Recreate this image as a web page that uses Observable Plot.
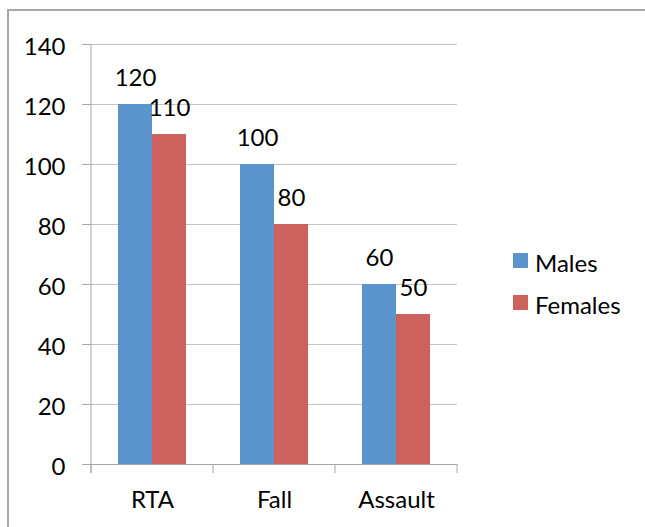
<!DOCTYPE html>
<html>
<head>
<meta charset="utf-8">
<script src="https://cdn.jsdelivr.net/npm/d3@7"></script>
<script src="https://cdn.jsdelivr.net/npm/@observablehq/plot@0.6"></script>
<style>
  html, body { margin: 0; padding: 0; background: #fff; }
  #wrap { position: relative; width: 645px; height: 527px; overflow: hidden; background: #fff; }
  #border { position: absolute; left: 7px; top: 9px; width: 700px; height: 600px; border-top: 2px solid #a6a6a6; border-left: 2px solid #a6a6a6; box-sizing: border-box; }
  #chart { position: absolute; left: 0; top: 0; }
</style>
</head>
<body>
<div id="wrap"><div id="border"></div><div id="chart"></div></div>
<script>
const categories = ["RTA", "Fall", "Assault"];
const series = ["Males", "Females"];
const males = [120, 100, 60];
const females = [110, 80, 50];
const colors = ["#5b93cd", "#cd625c"];
const yTicks = [0, 20, 40, 60, 80, 100, 120, 140];

const data = categories.flatMap((c, i) => [
  {cat: c, series: series[0], value: males[i]},
  {cat: c, series: series[1], value: females[i]}
]);

const axisGray = "#a6a6a6";
const gridGray = "#c4c4c4";
const font = "Lato, 'Open Sans', sans-serif";
const fs = 24;

const plot = Plot.plot({
  width: 645,
  height: 527,
  marginLeft: 91,
  marginRight: 188,
  marginTop: 44,
  marginBottom: 63,
  style: {fontFamily: font, fontSize: fs + "px", color: "#000", background: "transparent"},
  fx: {domain: categories, padding: 0, label: null},
  x: {domain: series, paddingInner: 0, paddingOuter: 0.743, axis: null},
  y: {domain: [0, 140], label: null},
  color: {domain: series, range: colors},
  marks: [
    Plot.gridY(yTicks, {stroke: gridGray, strokeOpacity: 1}),
    Plot.barY(data, {fx: "cat", x: "series", y: "value", fill: "series"}),
    Plot.text(data, {fx: "cat", x: "series", y: "value", text: d => String(d.value), lineAnchor: "bottom", dy: -19, fill: "#000", fontSize: fs}),
    Plot.ruleY([0], {stroke: axisGray}),
    Plot.axisY(yTicks, {tickSize: 9, text: null, stroke: axisGray, label: null}),
    Plot.axisY(yTicks, {tickSize: 0, tickPadding: 26, fill: "#000", label: null, dy: 3, fontSize: fs}),
    Plot.axisFx({anchor: "bottom", tickSize: 0, tickPadding: 26, label: null, fill: "#000", fontSize: fs})
  ]
});

document.getElementById("chart").appendChild(plot);

// Excel-style axis line and category boundary ticks, placed with the plot's own scales
const svg = d3.select(plot);
const fxs = plot.scale("fx");
const ys = plot.scale("y");
const y0 = ys.apply(0), yTop = ys.apply(140);
const bounds = categories.map(c => fxs.apply(c)).concat([fxs.range[1]]);
const g = svg.append("g").attr("stroke", axisGray).attr("stroke-width", 1);
g.append("line").attr("x1", bounds[0]).attr("x2", bounds[0]).attr("y1", yTop).attr("y2", y0 + 9);
bounds.forEach(b => g.append("line").attr("x1", b).attr("x2", b).attr("y1", y0).attr("y2", y0 + 9));

// Legend
const lg = svg.append("g").attr("font-family", font).attr("font-size", fs).attr("fill", "#000").attr("text-anchor", "start");
series.forEach((s, i) => {
  const top = 253 + i * 42;
  lg.append("rect").attr("x", 513).attr("y", top).attr("width", 15).attr("height", 15).attr("fill", colors[i]);
  lg.append("text").attr("x", 535).attr("y", top + 19).attr("text-anchor", "start").text(s);
});
</script>
</body>
</html>
